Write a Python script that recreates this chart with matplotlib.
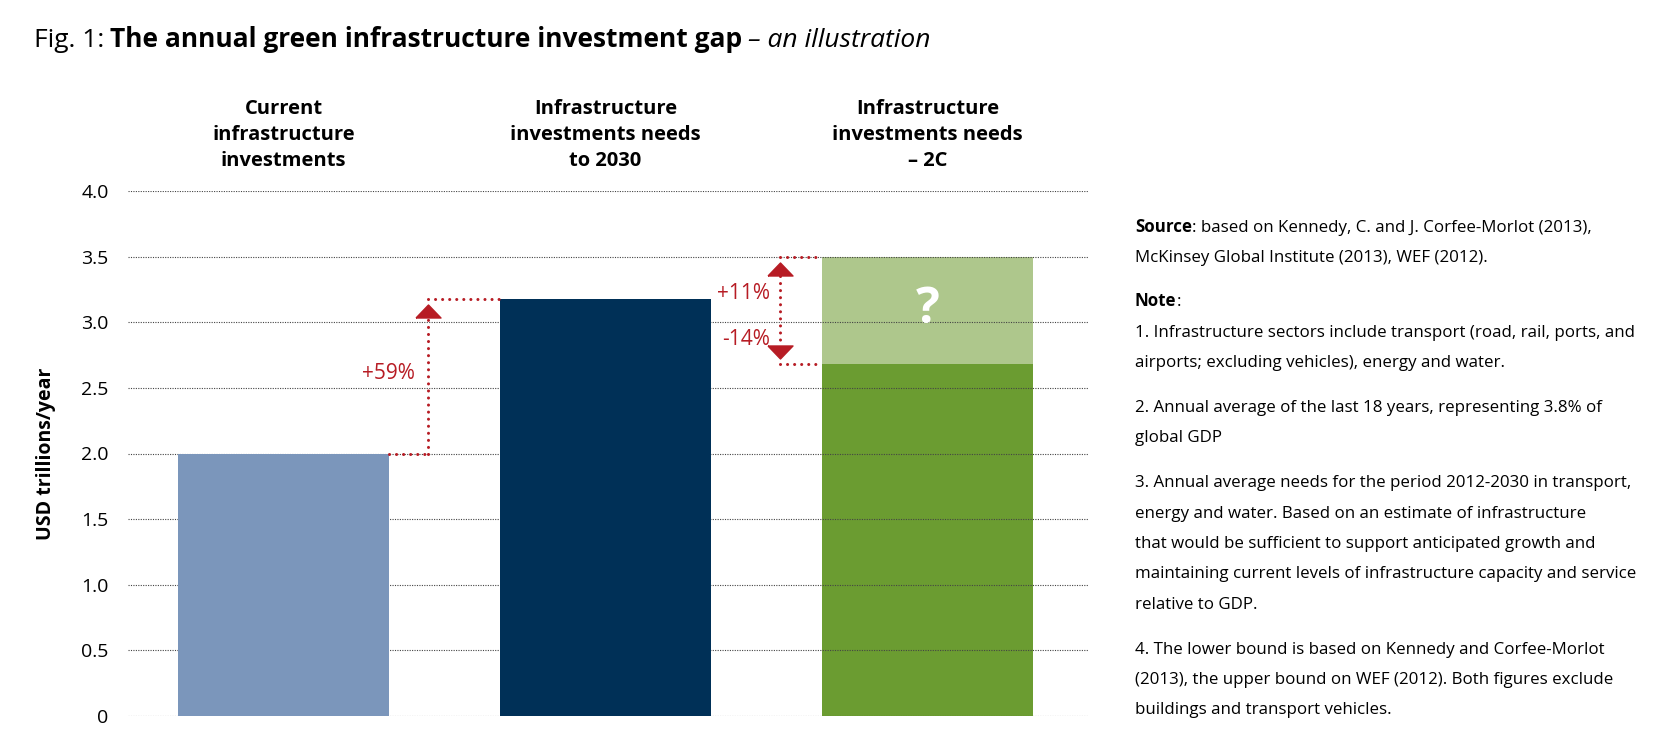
import matplotlib
matplotlib.use('Agg')
import matplotlib.pyplot as plt
from matplotlib.transforms import blended_transform_factory
import numpy as np

plt.rcParams['font.family'] = ['Open Sans', 'DejaVu Sans']

# data
categories = ['Current\ninfrastructure\ninvestments',
              'Infrastructure\ninvestments needs\nto 2030',
              'Infrastructure\ninvestments needs\n– 2C']
current = 2.0
needs_2030 = 3.18
needs_2c_low = 2.68
needs_2c_high = 3.5
pct_labels = ['+59%', '+11%', '-14%']
y_ticks = [0, 0.5, 1.0, 1.5, 2.0, 2.5, 3.0, 3.5, 4.0]
y_tick_labels = ['0', '0.5', '1.0', '1.5', '2.0', '2.5', '3.0', '3.5', '4.0']
y_label = 'USD trillions/year'

source_lines = ['based on Kennedy, C. and J. Corfee-Morlot (2013),',
                'McKinsey Global Institute (2013), WEF (2012).']
note_paragraphs = [
    ['1. Infrastructure sectors include transport (road, rail, ports, and',
     'airports; excluding vehicles), energy and water.'],
    ['2. Annual average of the last 18 years, representing 3.8% of',
     'global GDP'],
    ['3. Annual average needs for the period 2012-2030 in transport,',
     'energy and water. Based on an estimate of infrastructure',
     'that would be sufficient to support anticipated growth and',
     'maintaining current levels of infrastructure capacity and service',
     'relative to GDP.'],
    ['4. The lower bound is based on Kennedy and Corfee-Morlot',
     '(2013), the upper bound on WEF (2012). Both figures exclude',
     'buildings and transport vehicles.'],
]

# styles
C_CURRENT = '#7b96bb'
C_2030 = '#003057'
C_2C_LOW = '#6b9c31'
C_2C_HIGH = '#aec78c'
RED = '#b71c24'

W, H = 1660, 755
fig = plt.figure(figsize=(W / 100, H / 100), dpi=100)
ax = fig.add_axes([128 / W, 39 / H, (1089 - 128) / W, (716 - 191) / H])

bw = 0.655
ax.bar(0, current, bw, color=C_CURRENT, zorder=1)
ax.bar(1, needs_2030, bw, color=C_2030, zorder=1)
ax.bar(2, needs_2c_low, bw, color=C_2C_LOW, zorder=0.4)
ax.bar(2, needs_2c_high - needs_2c_low, bw, bottom=needs_2c_low, color=C_2C_HIGH, zorder=0.4)
ax.text(2, (needs_2c_low + needs_2c_high) / 2, '?', color='white', fontsize=36,
        fontweight='bold', ha='center', va='center', zorder=3)

ax.set_axisbelow(True)
ax.yaxis.grid(True, color='#444444', linestyle=(0, (1, 1.2)), linewidth=0.8)
ax.set_xlim(-0.483, 2.502)
ax.set_ylim(0, 4)
ax.set_yticks(y_ticks)
ax.set_yticklabels(y_tick_labels)
ax.set_xticks([])
ax.tick_params(axis='y', length=0, pad=14, labelsize=14)
for s in ax.spines.values():
    s.set_visible(False)
ax.set_ylabel(y_label, fontsize=14, fontweight='bold', labelpad=18)

# category headers above the plot
trans = blended_transform_factory(ax.transData, fig.transFigure)
for i, cat in enumerate(categories):
    ax.text(i, 1 - 135 / H, cat, transform=trans, ha='center', va='center',
            fontsize=14.5, fontweight='bold', linespacing=1.42)

# change arrows
dots = dict(color=RED, linewidth=2.2, linestyle=(0, (0.01, 2.3)),
            dash_capstyle='round', zorder=4)
up_head = [(-1, -0.52), (1, -0.52), (0, 0.52), (-1, -0.52)]
down_head = [(-1, 0.52), (1, 0.52), (0, -0.52), (-1, 0.52)]
head_h = 0.10
gap = 0.045

gx1 = 0.448
ax.plot([bw / 2, gx1], [current, current], **dots)
ax.plot([gx1, gx1], [current, needs_2030 - gap - head_h], **dots)
ax.plot([gx1, 1 - bw / 2], [needs_2030, needs_2030], **dots)
ax.plot(gx1, needs_2030 - gap - head_h / 2, marker=up_head, markersize=18,
        color=RED, linestyle='none', zorder=5)
ax.text(gx1 - 0.04, 2.61, pct_labels[0], color=RED, fontsize=15, ha='right', va='center')

gx2 = 1.542
ax.plot([gx2, 2 - bw / 2], [needs_2c_high, needs_2c_high], **dots)
ax.plot([gx2, 2 - bw / 2], [needs_2c_low, needs_2c_low], **dots)
ax.plot([gx2, gx2], [needs_2c_high - gap - head_h, needs_2c_low + gap + head_h], **dots)
ax.plot(gx2, needs_2c_high - gap - head_h / 2, marker=up_head, markersize=18,
        color=RED, linestyle='none', zorder=5)
ax.plot(gx2, needs_2c_low + gap + head_h / 2, marker=down_head, markersize=18,
        color=RED, linestyle='none', zorder=5)
ax.text(gx2 - 0.03, 3.22, pct_labels[1], color=RED, fontsize=15, ha='right', va='center')
ax.text(gx2 - 0.03, 2.87, pct_labels[2], color=RED, fontsize=15, ha='right', va='center')


def draw_runs(x, y, runs, size, **kw):
    '''draw text pieces one after another on a line'''
    r = fig.canvas.get_renderer()
    for txt, weight, style, space in runs:
        t = fig.text(x, y, txt, fontsize=size, fontweight=weight, fontstyle=style,
                     va='baseline', ha='left', **kw)
        x += (t.get_window_extent(r).width + space * size * 100 / 72) / W
    return x


# title
draw_runs(34 / W, 1 - 47 / H,
          [('Fig. 1:', 'normal', 'normal', 0.22),
           ('The annual green infrastructure investment gap', 'bold', 'normal', 0.22),
           ('– an illustration', 'normal', 'italic', 0)], 19)

# source and notes
fs = 12.2
tx = 1135 / W
step = 30.5
pgap = 14
y = 231.5
draw_runs(tx, 1 - y / H, [('Source', 'bold', 'normal', 0),
                          (': ' + source_lines[0], 'normal', 'normal', 0)], fs)
for line in source_lines[1:]:
    y += step
    fig.text(tx, 1 - y / H, line, fontsize=fs, va='baseline')
y += step + pgap
draw_runs(tx, 1 - y / H, [('Note', 'bold', 'normal', 0),
                          (':', 'normal', 'normal', 0)], fs)
for k, para in enumerate(note_paragraphs):
    if k > 0:
        y += pgap
    for line in para:
        y += step
        fig.text(tx, 1 - y / H, line, fontsize=fs, va='baseline')

fig.savefig('out.png', dpi=100)
